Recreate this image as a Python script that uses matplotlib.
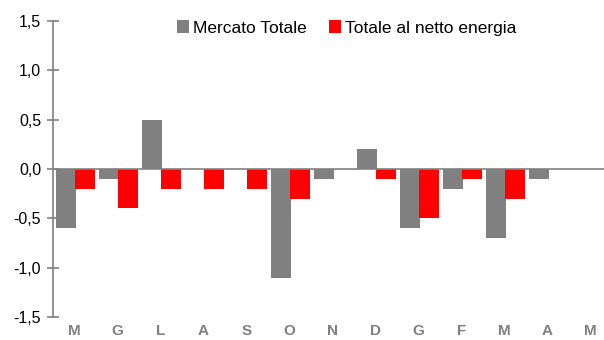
import matplotlib.pyplot as plt
import numpy as np
from matplotlib.ticker import FuncFormatter

months = ["M", "G", "L", "A", "S", "O", "N", "D", "G", "F", "M", "A", "M"]
mercato_totale = [-0.6, -0.1, 0.5, 0.0, 0.0, -1.1, -0.1, 0.2, -0.6, -0.2, -0.7, -0.1, 0.0]
netto_energia = [-0.2, -0.4, -0.2, -0.2, -0.2, -0.3, 0.0, -0.1, -0.5, -0.1, -0.3, 0.0, 0.0]

plt.rcParams["font.family"] = ["Liberation Sans", "DejaVu Sans"]

fig = plt.figure(figsize=(6.04, 3.4), dpi=100)
ax = fig.add_axes([0.0877, 0.0676, 0.9255, 0.8706])

x = np.arange(len(months))
w = 0.47
ax.bar(x - 0.2, mercato_totale, w, color="#808080", label="Mercato Totale", zorder=2)
ax.bar(x + 0.25, netto_energia, w, color="#ff0000", label="Totale al netto energia", zorder=3)

ax.axhline(0, color="#808080", lw=1.2, zorder=4)
ax.set_xlim(-0.5, len(months) - 0.5)
ax.set_ylim(-1.5, 1.5)
ax.set_yticks([-1.5, -1.0, -0.5, 0.0, 0.5, 1.0, 1.5])
ax.yaxis.set_major_formatter(FuncFormatter(lambda v, p: f"{v:.1f}".replace(".", ",")))
ax.tick_params(axis="y", direction="inout", length=9, width=1.2, color="#808080",
               labelsize=11.5, pad=4)
ax.set_xticks(x)
ax.set_xticklabels(months, fontweight="bold", color="#808080", fontsize=11)
ax.tick_params(axis="x", length=0, pad=5)

for s in ["top", "right", "bottom"]:
    ax.spines[s].set_visible(False)
ax.spines["left"].set_color("#808080")
ax.spines["left"].set_linewidth(1.2)

ax.legend(loc="upper center", bbox_to_anchor=(0.525, 1.055), ncol=2, frameon=False,
          fontsize=12.5, handlelength=0.7, handleheight=0.7, handletextpad=0.2,
          columnspacing=1.3)

fig.savefig("out.png", dpi=100)
